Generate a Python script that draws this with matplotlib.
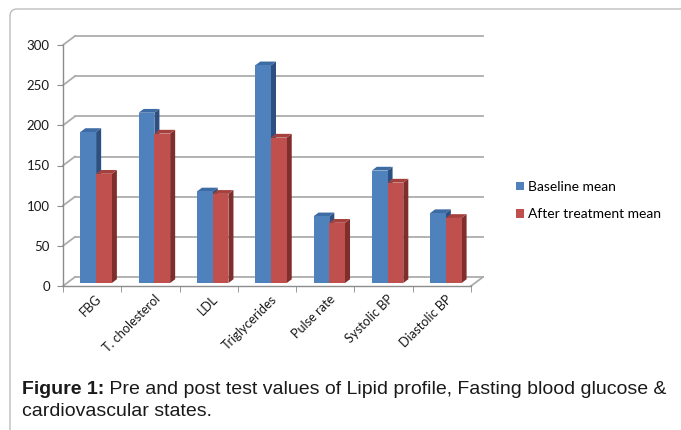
import matplotlib.pyplot as plt
from matplotlib.patches import Polygon, FancyBboxPatch, Patch
from matplotlib.transforms import IdentityTransform

categories = ['FBG', 'T. cholesterol', 'LDL', 'Triglycerides', 'Pulse rate',
              'Systolic BP', 'Diastolic BP']
baseline = [188, 212, 114, 271, 83, 140, 87]
after = [136, 186, 111, 181, 75, 125, 81]
y_ticks = [0, 50, 100, 150, 200, 250, 300]
series_names = ['Baseline mean', 'After treatment mean']

# colours: front, top, side
blue = ('#4F81BD', '#3D6BA3', '#2D5082')
red = ('#C0504D', '#A6403D', '#7F2E2C')
grid_col = '#ACACAC'

W, H = 681, 430
fig = plt.figure(figsize=(W / 100, H / 100), dpi=100)

# outer frame with rounded corner (pixel coords)
frame = FancyBboxPatch((10, -30), 720, 430 - 9 + 30, boxstyle='round,pad=0,rounding_size=7',
                       transform=IdentityTransform(), fill=False, ec='#BEBEBE', lw=1.0)
fig.patches.append(frame)

ax = fig.add_axes([63 / W, 1 - 286 / H, 408 / W, 241 / H])
n = len(categories)
ax.set_xlim(0, n)
ax.set_ylim(0, 300)

# depth of the 3d wall in data units
DX = 12 / (408 / n)
DY = 9 / (241 / 300)

# back wall gridlines and left wall diagonals
for v in y_ticks:
    ax.plot([DX, n + DX], [v + DY, v + DY], color=grid_col, lw=1.3, clip_on=False, zorder=1)
    ax.plot([0, DX], [v, v + DY], color=grid_col, lw=1.3, clip_on=False, zorder=1)
ax.plot([n, n + DX], [0, DY], color=grid_col, lw=1.3, clip_on=False, zorder=1)

# 3d bars
f0, f1 = 0.33, 0.75
bw = 0.27
for i in range(n):
    c = i + 0.5 + f0 * DX
    b = f0 * DY
    ddx = (f1 - f0) * DX
    ddy = (f1 - f0) * DY
    for k, (vals, col) in enumerate([(baseline, blue), (after, red)]):
        x0 = c - bw + k * bw
        top = b + vals[i]
        side = Polygon([(x0 + bw, b), (x0 + bw + ddx, b + ddy),
                        (x0 + bw + ddx, top + ddy), (x0 + bw, top)],
                       closed=True, fc=col[2], ec='none', clip_on=False, zorder=3)
        lid = Polygon([(x0, top), (x0 + bw, top), (x0 + bw + ddx, top + ddy), (x0 + ddx, top + ddy)],
                      closed=True, fc=col[1], ec='none', clip_on=False, zorder=3)
        ax.add_patch(side)
        ax.add_patch(lid)
        ax.bar(x0, vals[i], width=bw, bottom=b, align='edge', color=col[0],
               edgecolor='none', clip_on=False, zorder=4)

for s in ['top', 'right']:
    ax.spines[s].set_visible(False)
for s in ['left', 'bottom']:
    ax.spines[s].set_color('#8C8C8C')
    ax.spines[s].set_linewidth(1.0)

ax.set_yticks(y_ticks)
ax.tick_params(axis='y', direction='out', length=4, color='#8C8C8C', pad=5.5,
               labelsize=9.5, labelcolor='#1A1A1A')
ax.set_xticks([i for i in range(n + 1)], minor=True)
ax.set_xticks([i + 0.5 + 0.06 for i in range(n)])
ax.set_xticklabels(categories, rotation=45, ha='right', va='top', rotation_mode='anchor',
                   fontsize=9.2, color='#1A1A1A', family='Lato')
ax.tick_params(axis='x', which='major', length=0, pad=5)
ax.tick_params(axis='x', which='minor', direction='out', length=4, color='#8C8C8C')
for lab in ax.get_yticklabels():
    lab.set_family('Lato')
ax.patch.set_visible(False)

handles = [Patch(fc=blue[0], ec='none'), Patch(fc=red[0], ec='none')]
fig.legend(handles, series_names, loc='center left', bbox_to_anchor=(516 / W, 1 - 200.5 / H),
           frameon=False, prop={'family': 'Lato', 'size': 10},
           handlelength=0.6, handleheight=0.6, handletextpad=0.3,
           labelspacing=1.1, borderpad=0, borderaxespad=0)

cap_size = 14
t1 = fig.text(22 / W, 1 - 398 / H, 'Figure 1:', fontsize=cap_size, weight='bold',
              family='Liberation Sans', color='#1A1A1A', va='bottom')
ax.annotate(' Pre and post test values of Lipid profile, Fasting blood glucose &',
            xy=(1, 0), xycoords=t1, va='bottom', ha='left', fontsize=cap_size,
            family='Liberation Sans', color='#1A1A1A', annotation_clip=False)
fig.text(22 / W, 1 - 420 / H, 'cardiovascular states.', fontsize=cap_size,
         family='Liberation Sans', color='#1A1A1A', va='bottom')

fig.savefig('out.png', dpi=100)
